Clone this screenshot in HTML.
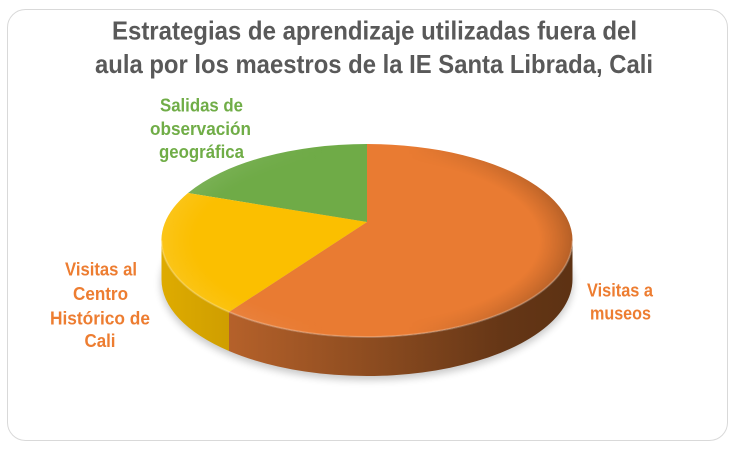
<!DOCTYPE html>
<html><head><meta charset="utf-8"><style>
html,body{margin:0;padding:0;background:#fff;}
svg{display:block;}
text{font-family:"Liberation Sans",sans-serif;font-weight:bold;}
</style></head><body>
<svg width="739" height="452" viewBox="0 0 739 452" xmlns="http://www.w3.org/2000/svg">
<defs>
 <linearGradient id="os" x1="229" y1="0" x2="573" y2="0" gradientUnits="userSpaceOnUse">
  <stop offset="0" stop-color="#b5612a"/>
  <stop offset="0.45" stop-color="#894a1f"/>
  <stop offset="0.8" stop-color="#653616"/>
  <stop offset="1" stop-color="#5d3213"/>
 </linearGradient>
 <linearGradient id="ys" x1="162" y1="0" x2="229" y2="0" gradientUnits="userSpaceOnUse">
  <stop offset="0" stop-color="#deab00"/>
  <stop offset="1" stop-color="#cf9e00"/>
 </linearGradient>
 <radialGradient id="rimg" cx="0.5" cy="0.5" r="0.5">
  <stop offset="0.84" stop-color="#000"/>
  <stop offset="1" stop-color="#fff"/>
 </radialGradient>
 <mask id="rimmask" maskUnits="userSpaceOnUse" x="0" y="0" width="739" height="452">
  <ellipse cx="367" cy="240.5" rx="205.5" ry="96.5" fill="url(#rimg)"/>
 </mask>
 <linearGradient id="rimcol" x1="161" y1="0" x2="573" y2="0" gradientUnits="userSpaceOnUse">
  <stop offset="0" stop-color="#fff" stop-opacity="0.1"/>
  <stop offset="0.4" stop-color="#fff" stop-opacity="0"/>
  <stop offset="0.6" stop-color="#000" stop-opacity="0"/>
  <stop offset="1" stop-color="#000" stop-opacity="0.22"/>
 </linearGradient>
 <filter id="blur" x="-20%" y="-20%" width="140%" height="140%"><feGaussianBlur stdDeviation="4"/></filter>
</defs>

<rect x="7.5" y="9.5" width="720" height="431" rx="18" fill="#fff" stroke="#d9d9d9"/>

<text x="374.5" y="39.5" font-size="26" fill="#595959" text-anchor="middle" textLength="525" lengthAdjust="spacingAndGlyphs">Estrategias de aprendizaje utilizadas fuera del</text>
<text x="374" y="73" font-size="26" fill="#595959" text-anchor="middle" textLength="558" lengthAdjust="spacingAndGlyphs">aula por los maestros de la IE Santa Librada, Cali</text>

<!-- shadow -->
<ellipse cx="367" cy="283" rx="206" ry="97" fill="#000" opacity="0.22" filter="url(#blur)"/>

<!-- sides -->
<path d="M161.5,240.5 A205.5,96.5 0 0 0 229,312 L229,351 A205.5,96.5 0 0 1 161.5,279.5 Z" fill="url(#ys)"/>
<path d="M229,312 A205.5,96.5 0 0 0 572.5,240.5 L572.5,279.5 A205.5,96.5 0 0 1 229,351 Z" fill="url(#os)"/>

<!-- top -->
<path d="M367,222 L367,144 A205.5,96.5 0 1 1 229,312 Z" fill="#e97b32"/>
<path d="M367,222 L188,193 A205.5,96.5 0 0 1 367,144 Z" fill="#6fab47"/>
<path d="M367,222 L229,312 A205.5,96.5 0 0 1 188,193 Z" fill="#fbbf00"/>

<!-- rim shading -->
<rect x="150" y="130" width="440" height="230" fill="url(#rimcol)" mask="url(#rimmask)"/>
<path d="M161.5,240.5 A205.5,96.5 0 0 0 572.5,240.5" fill="none" stroke="#fff" stroke-opacity="0.22" stroke-width="2"/>

<!-- labels -->
<g font-size="18" fill="#70ad47" text-anchor="middle">
 <text x="201.5" y="111.5" textLength="83" lengthAdjust="spacingAndGlyphs">Salidas de</text>
 <text x="200.5" y="135" textLength="101" lengthAdjust="spacingAndGlyphs">observación</text>
 <text x="201.5" y="158" textLength="85" lengthAdjust="spacingAndGlyphs">geográfica</text>
</g>
<g font-size="18" fill="#ed7d31" text-anchor="middle">
 <text x="101" y="275.5" textLength="72" lengthAdjust="spacingAndGlyphs">Visitas al</text>
 <text x="100.5" y="300" textLength="55" lengthAdjust="spacingAndGlyphs">Centro</text>
 <text x="100" y="324.5" textLength="100" lengthAdjust="spacingAndGlyphs">Histórico de</text>
 <text x="100" y="347" textLength="31" lengthAdjust="spacingAndGlyphs">Cali</text>
 <text x="620" y="296.5" textLength="66" lengthAdjust="spacingAndGlyphs">Visitas a</text>
 <text x="620.5" y="319.5" textLength="61" lengthAdjust="spacingAndGlyphs">museos</text>
</g>
</svg>
</body></html>
